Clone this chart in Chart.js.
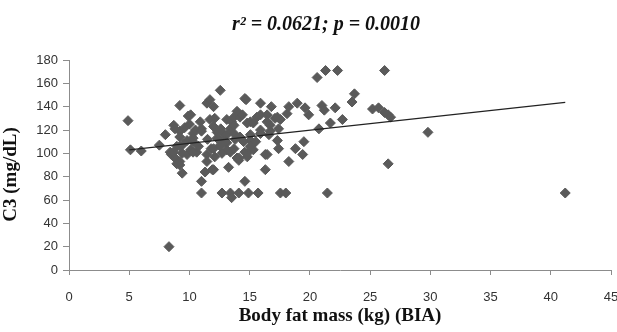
<!DOCTYPE html>
<html>
<head>
<meta charset="utf-8">
<script src="https://cdn.jsdelivr.net/npm/chart.js@4/dist/chart.umd.min.js"></script>
<style>
  html, body { margin: 0; padding: 0; background: #fff; }
  #wrap { width: 617px; height: 332px; }
</style>
</head>
<body>
<div id="wrap"><canvas id="scatterChart" width="617" height="332"></canvas></div>
<script>
// body fat mass (kg) and C3 (mg/dL)
const fatMass = [
  4.9, 5.1, 6.0, 7.5, 8.0, 8.3, 8.7, 8.5, 8.4, 8.8, 9.2, 9.2, 9.4, 9.2, 9.2, 9.2,
  9.8, 9.8, 9.9, 10.3, 10.3, 10.6, 10.75, 10.1, 8.95, 9.4, 10.9, 11.0, 11.45, 11.7,
  12.0, 11.7, 11.45, 11.45, 11.3, 12.0, 11.0, 11.0, 12.0, 12.56, 12.56, 12.56, 12.3,
  12.8, 12.7, 13.1, 13.1, 13.1, 13.1, 13.25, 13.4, 13.5, 13.4, 13.5, 13.4, 13.7,
  13.7, 13.95, 13.95, 14.2, 14.2, 14.1, 14.1, 14.4, 14.6, 14.6, 14.7, 14.8, 14.8,
  14.9, 15.06, 15.06, 15.06, 15.3, 15.3, 15.5, 15.7, 15.9, 15.9, 15.9, 16.3, 16.3,
  16.45, 16.6, 16.7, 16.8, 17.1, 17.3, 17.4, 17.4, 17.55, 17.55, 18.0, 18.1, 18.25,
  18.25, 18.8, 18.95, 19.4, 19.5, 19.6, 19.9, 20.6, 20.75, 21.0, 21.2, 21.3, 21.45,
  21.7, 22.1, 22.3, 22.7, 23.5, 23.7, 25.2, 25.7, 26.2, 26.2, 26.5, 26.7, 26.5,
  29.8, 41.2,
  9.6, 10.0, 9.5, 10.5, 12.3, 12.8, 13.8, 11.5, 11.8, 12.1,
  8.8, 10.3, 11.0, 12.1, 12.6, 13.7, 15.6, 16.45, 17.3, 13.0, 13.7, 14.5,
  15.06, 15.9, 16.7, 16.45, 12.0, 10.3, 9.2, 8.7, 14.8, 14.6, 8.95, 11.9,
  14.1, 12.7, 12.56, 10.1
];
const c3Values = [
  128, 103, 102, 107, 116, 20, 124, 99, 101, 96, 93, 90, 83, 141, 119, 114,
  111, 99, 132, 117, 110, 101, 106, 103, 106, 100, 127, 121, 143, 146,
  140, 129, 99, 93, 84, 86, 76, 66, 123, 154, 111, 106, 113,
  117, 66, 103, 109, 116, 129, 88, 66, 62, 121, 127, 101, 117,
  131, 136, 96, 114, 131, 96, 66, 133, 76, 101, 146, 126, 100,
  66, 111, 127, 106, 103, 126, 110, 66, 143, 133, 120, 99, 86,
  133, 116, 124, 140, 130, 111, 121, 104, 129, 66, 66, 134, 140,
  93, 104, 143, 99, 110, 139, 133, 165, 121, 141, 137, 171, 66,
  126, 139, 171, 129, 144, 151, 138, 139, 171, 135, 133, 131, 91,
  118, 66,
  122, 125, 108, 120, 118, 110, 112, 112, 104, 97,
  121, 113, 119, 130, 121, 124, 131, 127, 131, 110, 104, 110,
  116, 117, 119, 99, 104, 101, 106, 101, 97, 147, 91, 86,
  94, 100, 107, 133
];

// linear fit line drawn in the figure
const trendX = [5.0, 41.2];
const trendY = [103, 143.6];

const points = fatMass.map((x, i) => ({ x: x, y: c3Values[i] }));
const trend = trendX.map((x, i) => ({ x: x, y: trendY[i] }));

const axisGray = '#8c8c8c';
const tickFont = { family: 'Liberation Sans', size: 13 };
const serifBold = { family: 'Liberation Serif', size: 19, weight: 'bold' };

const ctx = document.getElementById('scatterChart').getContext('2d');
new Chart(ctx, {
  type: 'scatter',
  data: {
    datasets: [{
      label: 'Trend',
      data: trend,
      showLine: true,
      borderColor: '#222',
      borderWidth: 1.2,
      pointRadius: 0,
      order: 0
    }, {
      label: 'C3',
      data: points,
      pointStyle: 'rectRot',
      pointRadius: 5,
      backgroundColor: '#5a5a5a',
      borderColor: '#5a5a5a',
      borderWidth: 1,
      order: 1
    }]
  },
  options: {
    responsive: false,
    animation: false,
    layout: { padding: 0 },
    plugins: {
      legend: { display: false },
      tooltip: { enabled: false },
      title: {
        display: true,
        // leading spaces push the title a little right, as in the figure
        text: '       r\u00B2 = 0.0621; p = 0.0010',
        color: '#111',
        font: { family: 'Liberation Serif', size: 20, style: 'italic', weight: 'bold' },
        padding: { top: 13, bottom: 23 }
      }
    },
    scales: {
      x: {
        type: 'linear',
        min: 0,
        max: 45,
        afterFit: (scale) => { scale.height = 62; scale.paddingRight = 0; },
        border: { color: axisGray, width: 1 },
        grid: { drawOnChartArea: false, drawTicks: true, tickLength: 5, color: axisGray },
        ticks: { stepSize: 5, color: '#333', font: tickFont, padding: 15, maxRotation: 0 },
        title: {
          display: true,
          text: 'Body fat mass (kg) (BIA)',
          color: '#111',
          font: serifBold,
          padding: { top: 0, bottom: 5 }
        }
      },
      y: {
        min: 0,
        max: 180,
        afterFit: (scale) => { scale.width = 69; },
        border: { color: axisGray, width: 1 },
        grid: { drawOnChartArea: false, drawTicks: true, tickLength: 6, color: axisGray },
        ticks: { stepSize: 20, color: '#333', font: tickFont, padding: 5 },
        title: {
          display: true,
          // trailing spaces move the label down a little
          text: 'C3 (mg/dL)    ',
          color: '#111',
          font: serifBold,
          padding: { top: 0, bottom: 4 }
        }
      }
    }
  }
});
</script>
</body>
</html>
